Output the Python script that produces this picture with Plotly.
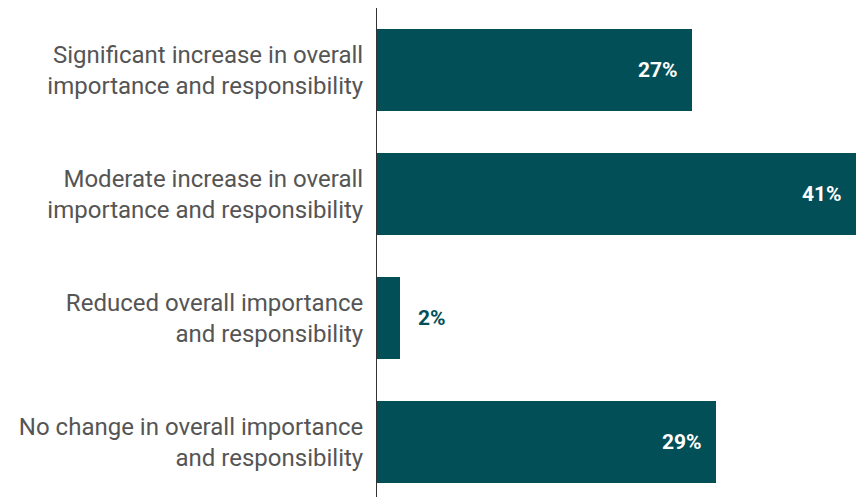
import plotly.graph_objects as go

categories = [
    "Significant increase in overall<br>importance and responsibility",
    "Moderate increase in overall<br>importance and responsibility",
    "Reduced overall importance<br>and responsibility",
    "No change in overall importance<br>and responsibility",
]
values = [27, 41, 2, 29]

BAR_COLOR = "#034F58"

fig = go.Figure(go.Bar(
    x=values, y=categories, orientation="h",
    marker=dict(color=BAR_COLOR, line=dict(width=0)),
    width=0.66,
    hoverinfo="skip",
))

# value labels: inside the bar end when it fits, otherwise just outside
for cat, v in zip(categories, values):
    inside = v >= 5
    fig.add_annotation(
        x=v, y=cat, text=f"<b>{v}%</b>", showarrow=False,
        xanchor="right" if inside else "left",
        xshift=-12 if inside else 16,
        font=dict(family="Roboto", size=21, color="white" if inside else BAR_COLOR),
    )

fig.update_layout(
    width=856, height=497,
    margin=dict(l=377, r=0, t=8, b=0),
    paper_bgcolor="white", plot_bgcolor="white",
    font=dict(family="Roboto", color="#555555"),
    showlegend=False,
    bargap=0,
)
fig.update_xaxes(range=[0, 41], visible=False)
fig.update_yaxes(
    range=[3.444, -0.5],
    showline=True, linecolor="#333333", linewidth=1,
    showgrid=False, zeroline=False, ticks="",
    tickfont=dict(family="Roboto", size=24, color="#555555"),
    ticklabelstandoff=8,
)

# drop the default page margin so the figure fills the window
fig.write_html(
    "out.html",
    config={"displayModeBar": False},
    post_script="document.body.style.margin='0';document.body.style.overflow='hidden';",
)
